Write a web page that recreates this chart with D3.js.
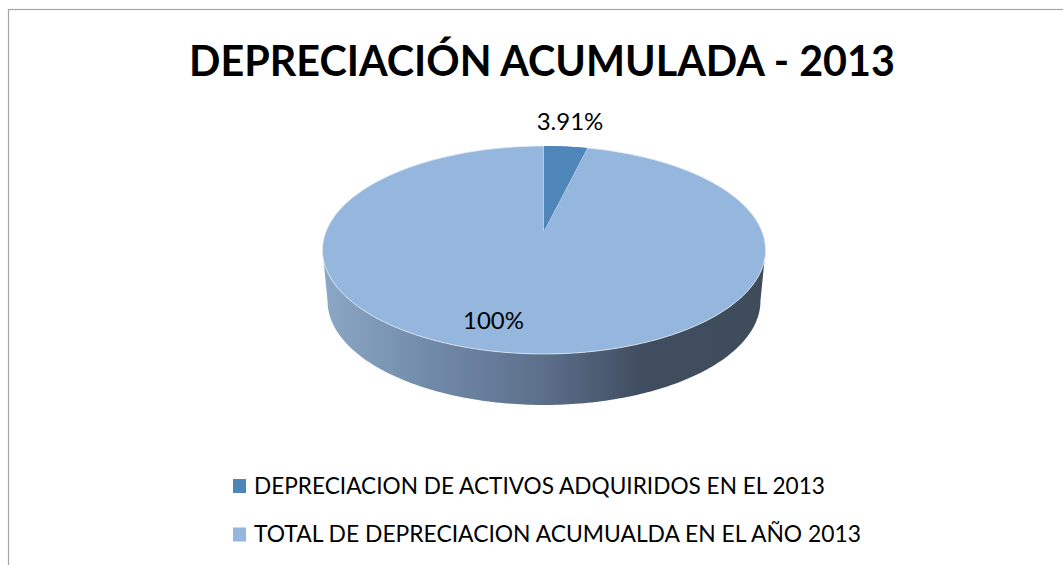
<!DOCTYPE html>
<html><head><meta charset="utf-8">
<script src="https://cdn.jsdelivr.net/npm/d3@7/dist/d3.min.js"></script>
<style>html,body{margin:0;padding:0;background:#fff;overflow:hidden}svg{display:block}text{font-family:Lato,"Open Sans",sans-serif;fill:#000}</style>
</head><body><svg id="c" width="1063" height="565"></svg>
<script>
const titleText = "DEPRECIACIÓN ACUMULADA - 2013";
const categories = ["DEPRECIACION DE ACTIVOS ADQUIRIDOS EN EL 2013","TOTAL DE DEPRECIACION ACUMUALDA EN EL AÑO 2013"];
const values = [3.91, 100];
const valueLabels = ["3.91%","100%"];
const colors = ["#4f86b9","#95b6dd"];

const svg = d3.select("#c");
const W = 1063, H = 565;
svg.append("rect").attr("x",8.5).attr("y",9.5).attr("width",W).attr("height",H).attr("fill","#fff").attr("stroke","#a6a6a6").attr("stroke-width",1.2);

// perspective projection of a unit disc lying on a tilted plane
const cx = 544, apexY = 231, k = 0.1827, bx = 217.8, by = 100.5;
const project = (a, r=1) => {
  const u = r*Math.sin(a), v = r*Math.cos(a), w = 1 + k*v;
  return [cx + bx*u/w, apexY - by*v/w];
};
const line = d3.line();
const sample = (a0,a1,n=180) => d3.range(n+1).map(i => project(a0+(a1-a0)*i/n));

// side wall
const depth = 51, shrink = 0.977, tangent = Math.asin(k);
const defs = svg.append("defs");
const grad = defs.append("linearGradient").attr("id","side").attr("gradientUnits","userSpaceOnUse")
  .attr("x1",322).attr("x2",765).attr("y1",0).attr("y2",0);
[[0,"#8ba8c6"],[0.25,"#7189a9"],[0.5,"#5c6f8a"],[0.72,"#404d60"],[1,"#3e4c5a"]]
  .forEach(([o,c])=>grad.append("stop").attr("offset",o).attr("stop-color",c));
const topLower = sample(Math.PI/2+tangent, 3*Math.PI/2-tangent);
const bottomLower = sample(3*Math.PI/2-tangent, Math.PI/2+tangent)
  .map(([x,y])=>[cx+(x-cx)*shrink, y+depth]);
svg.append("path").attr("d", line(topLower.concat(bottomLower))+"Z").attr("fill","url(#side)");

// top face from d3.pie angles
const arcs = d3.pie().sort(null)(values);
svg.selectAll("path.slice").data(arcs).join("path").attr("class","slice")
  .attr("d",d => line([[cx,apexY]].concat(sample(d.startAngle,d.endAngle)))+"Z")
  .attr("fill",(d,i)=>colors[i]).attr("stroke",(d,i)=>i==1?"#dfe8f3":"none").attr("stroke-width",0.8);
// repaint small slice on top
svg.append("path").datum(arcs[0])
  .attr("d",d => line([[cx,apexY]].concat(sample(d.startAngle,d.endAngle)))+"Z").attr("fill",colors[0]);

// title
svg.append("text").attr("x",542).attr("y",75.5).attr("text-anchor","middle").attr("font-size",42).attr("font-weight",700)
  .attr("textLength",706).attr("lengthAdjust","spacingAndGlyphs").text(titleText);

// data labels
const labelPos = [[570,130],[493.5,329]];
svg.selectAll("text.lab").data(valueLabels).join("text").attr("class","lab")
  .attr("x",(d,i)=>labelPos[i][0]).attr("y",(d,i)=>labelPos[i][1]).attr("text-anchor","middle").attr("font-size",24).text(d=>d);

// legend
const ly = d3.scalePoint().domain(categories).range([486,534.5]);
const widths = [571,607];
const g = svg.selectAll("g.leg").data(categories).join("g").attr("class","leg").attr("transform",d=>`translate(233,${ly(d)})`);
g.append("rect").attr("y",-7).attr("width",13).attr("height",14).attr("fill",(d,i)=>colors[i]);
g.append("text").attr("x",21).attr("y",7.5).attr("font-size",24).attr("textLength",(d,i)=>widths[i]).attr("lengthAdjust","spacingAndGlyphs").text(d=>d);
</script></body></html>
